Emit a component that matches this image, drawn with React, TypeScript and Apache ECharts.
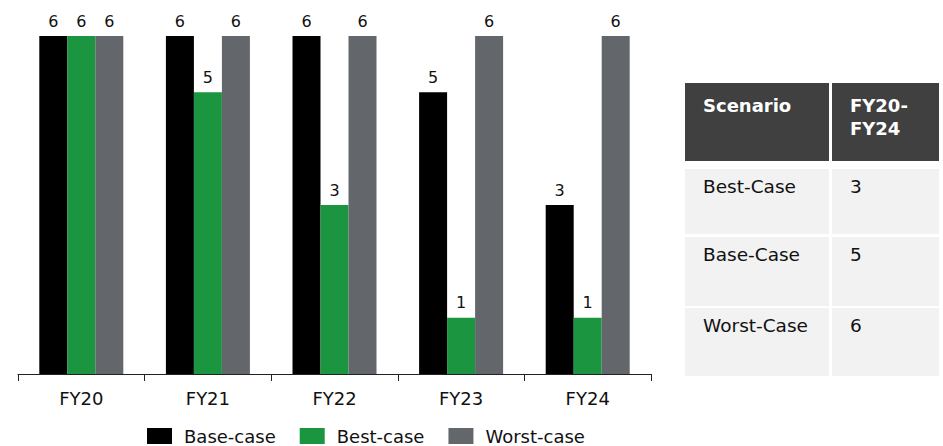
import React, { useEffect, useRef } from "react";
import * as echarts from "echarts";

const categories = ["FY20", "FY21", "FY22", "FY23", "FY24"];
const baseCase = [6, 6, 6, 5, 3];
const bestCase = [6, 5, 3, 1, 1];
const worstCase = [6, 6, 6, 6, 6];
const seriesNames = ["Base-case", "Best-case", "Worst-case"];

const tableHeaders = ["Scenario", "FY20-\nFY24"];
const tableScenarios = ["Best-Case", "Base-Case", "Worst-Case"];
const tableValues = [3, 5, 6];

const FONT = "'DejaVu Sans', Verdana, sans-serif";
const COLORS = ["#000000", "#1b953f", "#63666a"];

export default function App() {
  const ref = useRef<HTMLDivElement>(null);
  useEffect(() => {
    document.body.style.margin = "0";
    const chart = echarts.init(ref.current!, null, { renderer: "svg" });

    const col1X = 685, col1W = 144, col2X = 832, col2W = 107;
    const headerY = 83, headerH = 78;
    const rowYs = [169, 237, 308];
    const rowH = [65, 69, 68];
    const graphics: any[] = [];
    graphics.push({ type: "rect", shape: { x: col1X, y: headerY, width: col1W, height: headerH }, style: { fill: "#404040" } });
    graphics.push({ type: "rect", shape: { x: col2X, y: headerY, width: col2W, height: headerH }, style: { fill: "#404040" } });
    graphics.push({ type: "text", x: col1X + 18, y: headerY + 11, style: { text: tableHeaders[0], fill: "#ffffff", font: `bold 18px ${FONT}`, lineHeight: 23 } });
    graphics.push({ type: "text", x: col2X + 18, y: headerY + 11, style: { text: tableHeaders[1], fill: "#ffffff", font: `bold 18px ${FONT}`, lineHeight: 23 } });
    tableScenarios.forEach((s, i) => {
      graphics.push({ type: "rect", shape: { x: col1X, y: rowYs[i], width: col1W, height: rowH[i] }, style: { fill: "#f2f2f2" } });
      graphics.push({ type: "rect", shape: { x: col2X, y: rowYs[i], width: col2W, height: rowH[i] }, style: { fill: "#f2f2f2" } });
      graphics.push({ type: "text", x: col1X + 18, y: rowYs[i] + 8, style: { text: s, fill: "#111111", font: `18.5px ${FONT}` } });
      graphics.push({ type: "text", x: col2X + 18, y: rowYs[i] + 8, style: { text: String(tableValues[i]), fill: "#111111", font: `18.5px ${FONT}` } });
    });

    const mkSeries = (name: string, data: number[], color: string) => ({
      name,
      type: "bar",
      data,
      barWidth: 28,
      barGap: "0%",
      itemStyle: { color },
      label: { show: true, position: "top", distance: 7, color: "#111111", fontSize: 16, fontFamily: FONT },
    });

    chart.setOption({
      animation: false,
      textStyle: { fontFamily: FONT },
      grid: { left: 18, right: 292, top: 36, bottom: 72 },
      legend: {
        top: 422,
        left: 142,
        padding: 5,
        itemWidth: 25,
        itemHeight: 16,
        itemGap: 24,
        icon: "rect",
        textStyle: { fontSize: 18, color: "#111111", fontFamily: FONT, padding: [0, 0, 0, 7] },
        data: seriesNames,
      },
      xAxis: {
        type: "category",
        data: categories,
        axisLine: { lineStyle: { color: "#222222", width: 1 } },
        axisTick: { show: true, length: 7, lineStyle: { color: "#222222" } },
        axisLabel: { fontSize: 18, color: "#111111", margin: 15, fontFamily: FONT },
      },
      yAxis: { type: "value", min: 0, max: 6, show: false, splitLine: { show: false } },
      series: [
        mkSeries(seriesNames[0], baseCase, COLORS[0]),
        mkSeries(seriesNames[1], bestCase, COLORS[1]),
        mkSeries(seriesNames[2], worstCase, COLORS[2]),
      ],
      graphic: graphics,
    });
    return () => chart.dispose();
  }, []);
  return <div ref={ref} style={{ width: 943, height: 446 }} />;
}
